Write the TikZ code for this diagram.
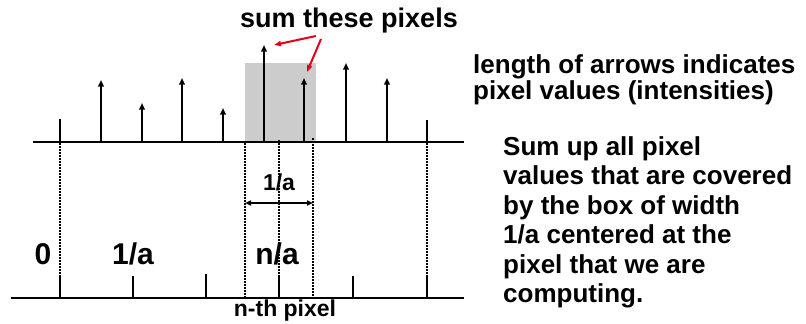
\documentclass[tikz,border=0pt]{standalone}
\usepackage{fontspec}
\setmainfont{Liberation Sans}
\usetikzlibrary{arrows.meta, positioning}

\tikzset{
  spike/.style={line width=2.8pt, -{Triangle[length=6.5pt,width=5.5pt]}},
  axis/.style={line width=2.4pt},
  dotline/.style={line width=1.8pt, dash pattern=on 1.6pt off 1.4pt},
  redpoint/.style={draw=red!90!blue, line width=2pt, -{Triangle[length=7pt,width=5pt]}}
}

\begin{document}
\begin{tikzpicture}[x=1pt, y=-1pt, font=\bfseries]
\useasboundingbox (0,0) rectangle (806,324);
% box of width 1/a
\fill [black!20] (245,63) rectangle (316,142);
% pixel values
\draw [line width=2.8pt] (60,142) -- (60,119);
\draw [spike] (101,142) -- (101,80);
\draw [spike] (142,142) -- (142,103);
\draw [spike] (182,142) -- (182,78);
\draw [spike] (223,142) -- (223,108);
\draw [spike] (264,142) -- (264,45);
\draw [spike] (304,142) -- (304,78);
\draw [spike] (346,142) -- (346,63);
\draw [spike] (387,142) -- (387,78);
\draw [line width=2.8pt] (427,142) -- (427,120);
\draw [axis] (33,142) -- (464,142);
% dotted guides
\draw [dotline] (60,143) -- (60,297);
\draw [dotline] (245,143) -- (245,297);
\draw [dotline] (279,140) -- (279,297);
\draw [dotline] (313,138) -- (313,297);
\draw [dotline] (427,143) -- (427,297);
% lower axis
\draw [axis] (11,298) -- (464,298);
\draw [line width=2pt] (60,298) -- (60,275);
\draw [line width=2pt] (133,298) -- (133,276);
\draw [line width=2pt] (206,298) -- (206,274);
\draw [line width=2pt] (279,298) -- (279,275);
\draw [line width=2pt] (353,298) -- (353,276);
\draw [line width=2pt] (427,298) -- (427,275);
% labels
\node (zero) at (43,254) [font=\bfseries\fontsize{30}{34}\selectfont] {0};
\node (onea) at (133,254) [font=\bfseries\fontsize{30}{34}\selectfont] {1/a};
\node (na) at (277,254) [font=\bfseries\fontsize{30}{34}\selectfont] {n/a};
\node (width) at (279,182) [font=\bfseries\fontsize{23}{26}\selectfont] {1/a};
\coordinate (wl) at (245,203);
\coordinate (wr) at (313,203);
\draw [line width=1.8pt, {Triangle[length=6pt,width=5pt]}-{Triangle[length=6pt,width=5pt]}] (wl) -- (wr);
\node (nth) at (285,311) [font=\bfseries\fontsize{23}{26}\selectfont] {n-th pixel};
% sum these pixels
\node (sum) at (349,21) [font=\bfseries\fontsize{27}{30}\selectfont] {sum these pixels};
\coordinate (ra) at (316,36);
\coordinate (rb) at (321,39);
\coordinate (ta) at (274,45);
\coordinate (tb) at (307,72);
\draw [redpoint] (ra) -- (ta);
\draw [redpoint] (rb) -- (tb);
% explanation
\node (len) at (473,54) [anchor=north west, inner sep=0pt, align=left,
  font=\bfseries\fontsize{26}{26}\selectfont]
  {length of arrows indicates\\pixel values (intensities)};
\node (expl) at (503,136) [anchor=north west, inner sep=0pt, align=left,
  font=\bfseries\fontsize{26}{29.5}\selectfont]
  {Sum up all pixel\\values that are covered\\by the box of width\\1/a centered at the\\pixel that we are\\computing.};
\end{tikzpicture}
\end{document}
